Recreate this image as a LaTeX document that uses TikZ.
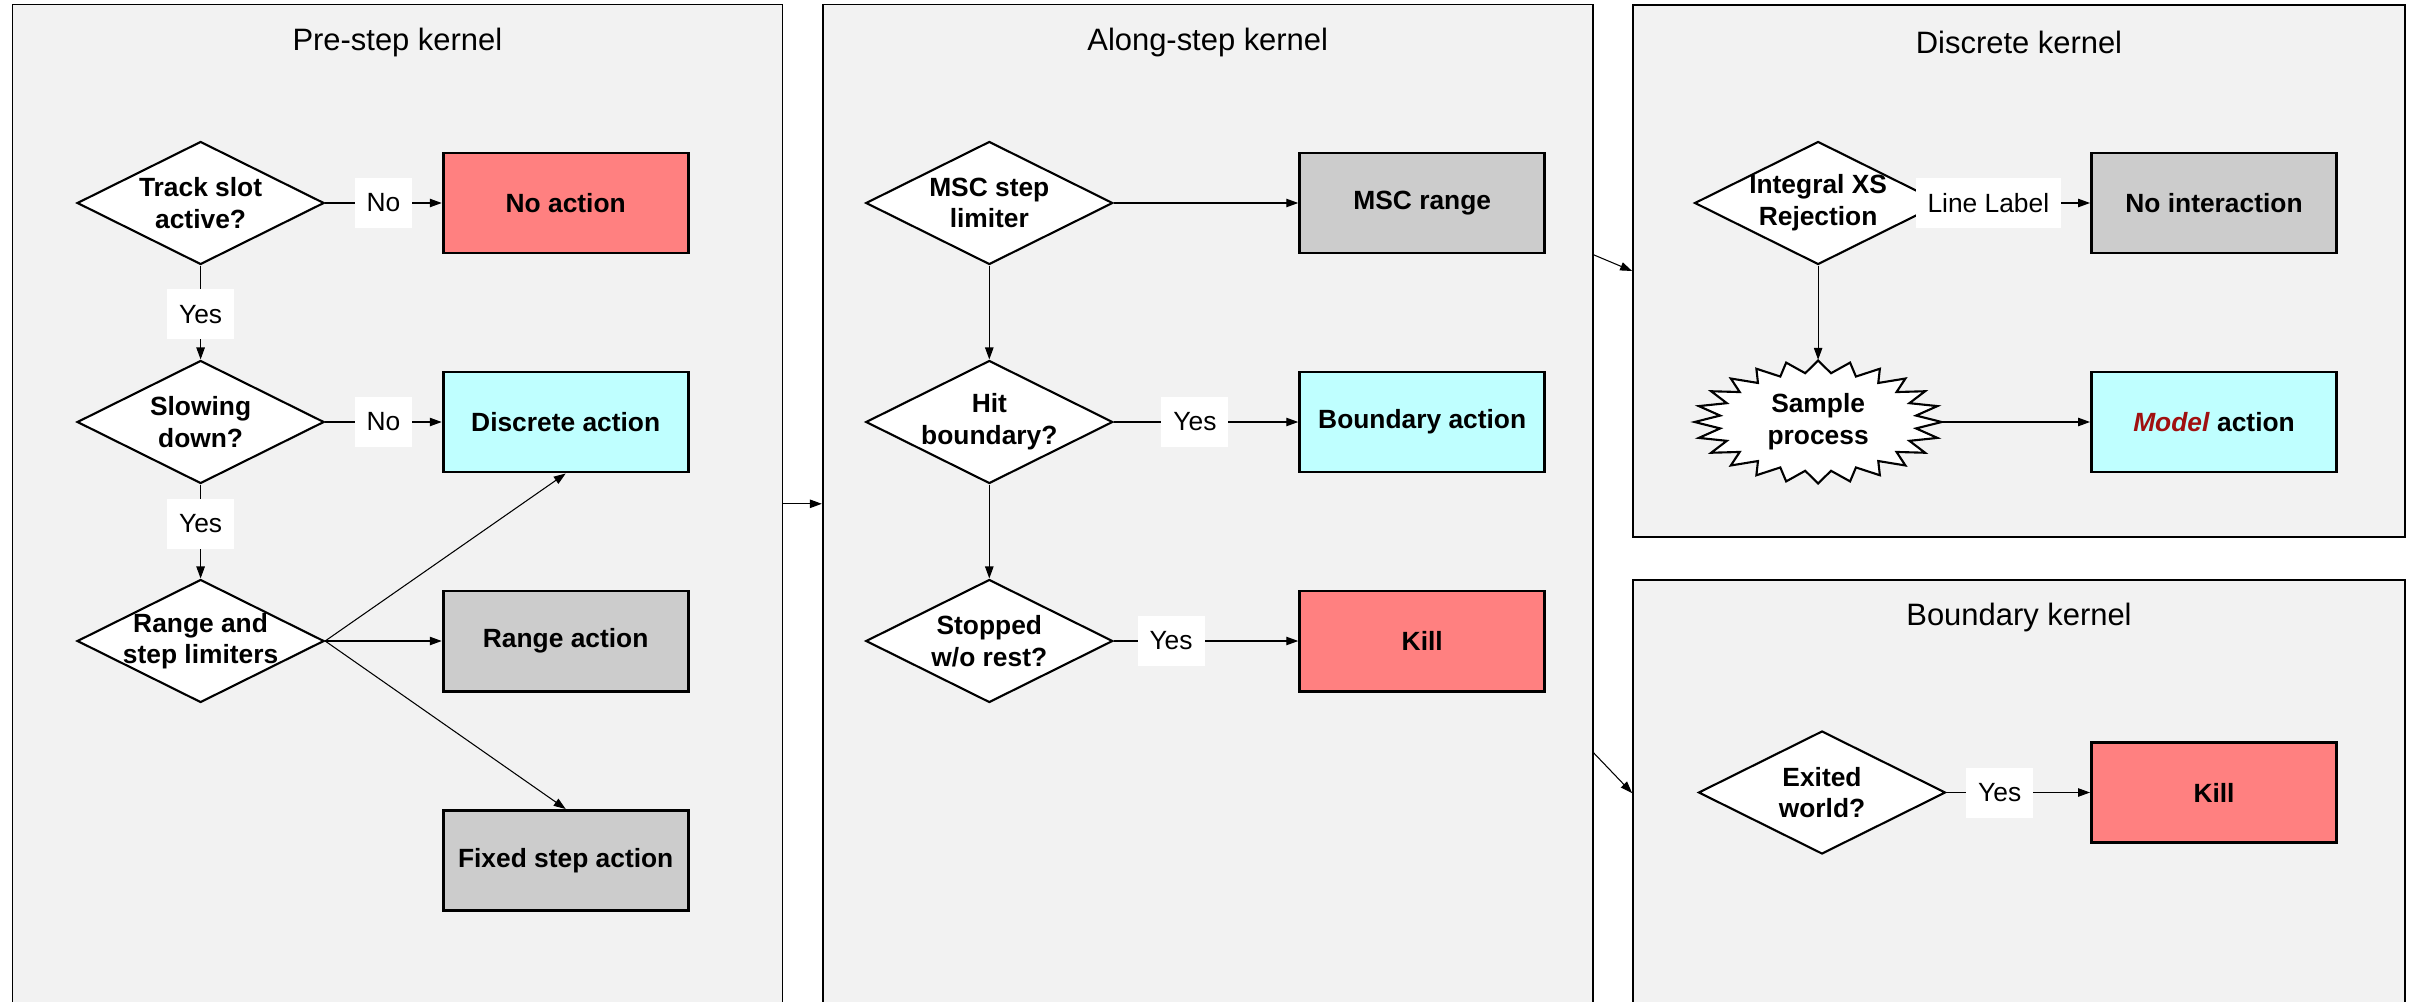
\documentclass[tikz,border=0pt]{standalone}
\usepackage{fontspec}
\setmainfont{Liberation Sans}
\usepackage{tikz}
\usetikzlibrary{arrows.meta, shapes.geometric, positioning}

\definecolor{killred}{HTML}{FF8080}
\definecolor{actcyan}{HTML}{BFFFFF}
\definecolor{actgray}{HTML}{CCCCCC}
\definecolor{panelgray}{HTML}{F2F2F2}
\definecolor{modelred}{HTML}{A01010}

\begin{document}
\begin{tikzpicture}[font=\fontsize{7.5}{9}\selectfont,
    panel/.style={draw, line width=0.5pt, fill=panelgray, inner sep=0pt},
    title/.style={font=\fontsize{8.8}{10}\selectfont},
    decision/.style={diamond, aspect=2, draw, fill=white, line width=0.6pt, minimum width=2.47cm, minimum height=1.23cm, inner sep=-0.15cm, align=center, font=\fontsize{7.5}{9}\selectfont\bfseries},
    burst/.style={ellipse, minimum width=2.47cm, minimum height=1.23cm, inner sep=0pt, align=center, font=\fontsize{7.5}{9}\selectfont\bfseries},
    action/.style={rectangle, draw, line width=0.85pt, minimum width=2.45cm, minimum height=1cm, font=\fontsize{7.5}{9}\selectfont\bfseries},
    lbl/.style={fill=white, inner xsep=0.12cm, minimum height=0.5cm},
    flow/.style={-{Triangle[length=3.4pt, width=2.4pt]}, line width=0.3pt}]
    \useasboundingbox (0,0) rectangle (24.2,10.01);
    \clip (0,0) rectangle (24.2,10.01);

    % kernels
    \node[panel, minimum width=7.70cm, minimum height=9.984cm] at (3.974, 4.972) (pre) {};
    \node[panel, minimum width=7.70cm, minimum height=9.984cm] at (12.077, 4.972) (along) {};
    \node[panel, minimum width=7.72cm, minimum height=5.325cm] at (20.19, 7.30) (discrete) {};
    \node[panel, minimum width=7.72cm, minimum height=4.257cm] at (20.19, 2.079) (boundary) {};
    \node[title] at ([yshift=-0.39cm]pre.north) (pretitle) {Pre-step kernel};
    \node[title] at ([yshift=-0.39cm]along.north) (alongtitle) {Along-step kernel};
    \node[title] at ([yshift=-0.39cm]discrete.north) (discretetitle) {Discrete kernel};
    \node[title] at ([yshift=-0.38cm]boundary.north) (boundarytitle) {Boundary kernel};

    \draw[flow] (pre) -- (along);
    \draw[flow] ([yshift=2.49cm]along.east) -- (discrete.west);
    \draw[flow] ([yshift=-2.49cm]along.east) -- (boundary.west);

    % pre-step
    \node[decision] at (2.006, 7.98) (active) {Track slot\\active?};
    \node[decision] at (2.006, 5.79) (slowing) {Slowing\\down?};
    \node[decision] at (2.006, 3.60) (limiters) {Range and\\step limiters};
    \node[action, fill=killred] at (5.657, 7.98) (noaction) {No action};
    \node[action, fill=actcyan] at (5.657, 5.79) (discaction) {Discrete action};
    \node[action, fill=actgray] at (5.657, 3.60) (rangeaction) {Range action};
    \node[action, fill=actgray] at (5.657, 1.405) (fixedaction) {Fixed step action};

    \draw[flow] (active) -- node[lbl] {No} (noaction);
    \draw[flow] (active) -- node[lbl, pos=0.52] {Yes} (slowing);
    \draw[flow] (slowing) -- node[lbl] {No} (discaction);
    \draw[flow] (slowing) -- node[lbl, pos=0.42] {Yes} (limiters);
    \draw[flow] (limiters.east) -- (discaction.south);
    \draw[flow] (limiters.east) -- (rangeaction.west);
    \draw[flow] (limiters.east) -- (fixedaction.north);

    % along-step
    \node[decision] at (9.893, 7.98) (msc) {MSC step\\limiter};
    \node[decision] at (9.893, 5.79) (hit) {Hit\\boundary?};
    \node[decision] at (9.893, 3.60) (stopped) {Stopped\\w/o rest?};
    \node[action, fill=actgray] at (14.222, 7.98) (mscrange) {MSC range};
    \node[action, fill=actcyan] at (14.222, 5.79) (bdyaction) {Boundary action};
    \node[action, fill=killred] at (14.222, 3.60) (killalong) {Kill};

    \draw[flow] (msc) -- (mscrange);
    \draw[flow] (msc) -- (hit);
    \draw[flow] (hit) -- node[lbl, pos=0.44] {Yes} (bdyaction);
    \draw[flow] (hit) -- (stopped);
    \draw[flow] (stopped) -- node[lbl, pos=0.31] {Yes} (killalong);

    % discrete
    \coordinate (samplec) at (18.181, 5.79);
    \draw[line width=0.6pt, fill=white, shift={(samplec)}]
        plot[samples=49, domain=0:360] ({1.235*(0.9+0.1*cos(24*\x))*cos(\x)}, {0.615*(0.9+0.1*cos(24*\x))*sin(\x)}) -- cycle;
    \node[decision] at (18.181, 7.98) (integral) {Integral XS\\Rejection};
    \node[burst] at (samplec) (sample) {Sample\\process};
    \node[action, fill=actgray] at (22.14, 7.98) (nointer) {No interaction};
    \node[action, fill=actcyan] at (22.14, 5.79) (model) {\textcolor{modelred}{\textit{Model}} action};

    \draw[flow] (integral) -- node[lbl, pos=0.31] {Line Label} (nointer);
    \draw[flow] (integral) -- (sample);
    \draw[flow] (sample) -- (model);

    % boundary
    \node[decision] at (18.22, 2.085) (exited) {Exited\\world?};
    \node[action, fill=killred] at (22.14, 2.085) (killbdy) {Kill};

    \draw[flow] (exited) -- node[lbl, pos=0.37] {Yes} (killbdy);
\end{tikzpicture}
\end{document}
